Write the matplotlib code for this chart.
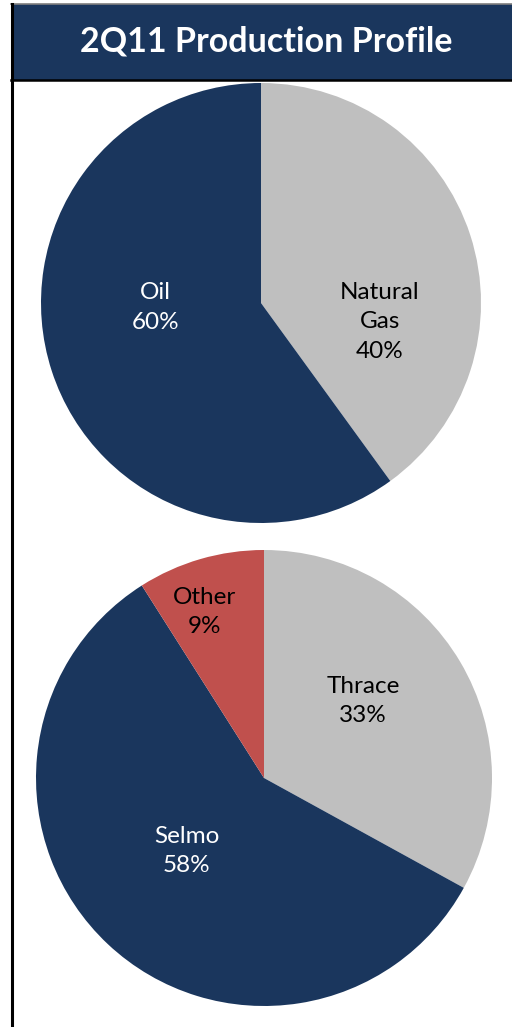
import matplotlib
matplotlib.use("Agg")
import matplotlib.pyplot as plt
from matplotlib.patches import Rectangle
from matplotlib.lines import Line2D

# ---- data ----
title = "2Q11 Production Profile"
prod_labels = ["Natural\nGas", "Oil"]
prod_values = [40, 60]
region_labels = ["Thrace", "Selmo", "Other"]
region_values = [33, 58, 9]

# ---- style ----
NAVY = "#1A365D"
GRAY = "#BFBFBF"
RED = "#C0504D"
FONT = ["Lato", "DejaVu Sans"]

W, H = 512, 1027
fig = plt.figure(figsize=(W / 100, H / 100), dpi=100)
fig.patch.set_facecolor("white")

def fx(px):
    return px / W

def fy(py):
    return 1 - py / H

# header
fig.patches.append(Rectangle((fx(11), fy(80)), fx(512) - fx(11), fy(4) - fy(80),
                             transform=fig.transFigure, facecolor=NAVY,
                             edgecolor="none", zorder=0))
fig.lines.append(Line2D([fx(11), fx(512)], [fy(4), fy(4)], transform=fig.transFigure,
                        color="#7F7F7F", lw=1.2))
fig.lines.append(Line2D([fx(11), fx(512)], [fy(79.5), fy(79.5)], transform=fig.transFigure,
                        color="black", lw=1.8))
fig.lines.append(Line2D([fx(11.5), fx(11.5)], [fy(4), fy(1027)], transform=fig.transFigure,
                        color="black", lw=2.2))
fig.text(fx(266), fy(41), title, color="white", fontsize=24.5, fontweight="bold",
         family=FONT, ha="center", va="center")

def draw_pie(cx, cy, r, values, labels, colors, text_colors, label_pos):
    ax = fig.add_axes([fx(cx - r), fy(cy + r), fx(2 * r), fy(cy - r) - fy(cy + r)])
    ax.pie(values, colors=colors, startangle=90, counterclock=False,
           wedgeprops=dict(linewidth=0), radius=1.0)
    ax.set_xlim(-1, 1)
    ax.set_ylim(-1, 1)
    ax.set_aspect("equal")
    ax.axis("off")
    for lab, v, tc, (px, py) in zip(labels, values, text_colors, label_pos):
        ax.text(px, py, f"{lab}\n{v}%", ha="center", va="center", color=tc,
                fontsize=17.5, family=FONT, linespacing=1.5)

draw_pie(261, 303, 220, prod_values, prod_labels, [GRAY, NAVY], ["black", "white"],
         [(0.54, -0.086), (-0.48, -0.02)])
draw_pie(264, 778, 228, region_values, region_labels, [GRAY, NAVY, RED],
         ["black", "white", "black"],
         [(0.434, 0.338), (-0.338, -0.32), (-0.263, 0.728)])

fig.savefig("out.png", dpi=100)
